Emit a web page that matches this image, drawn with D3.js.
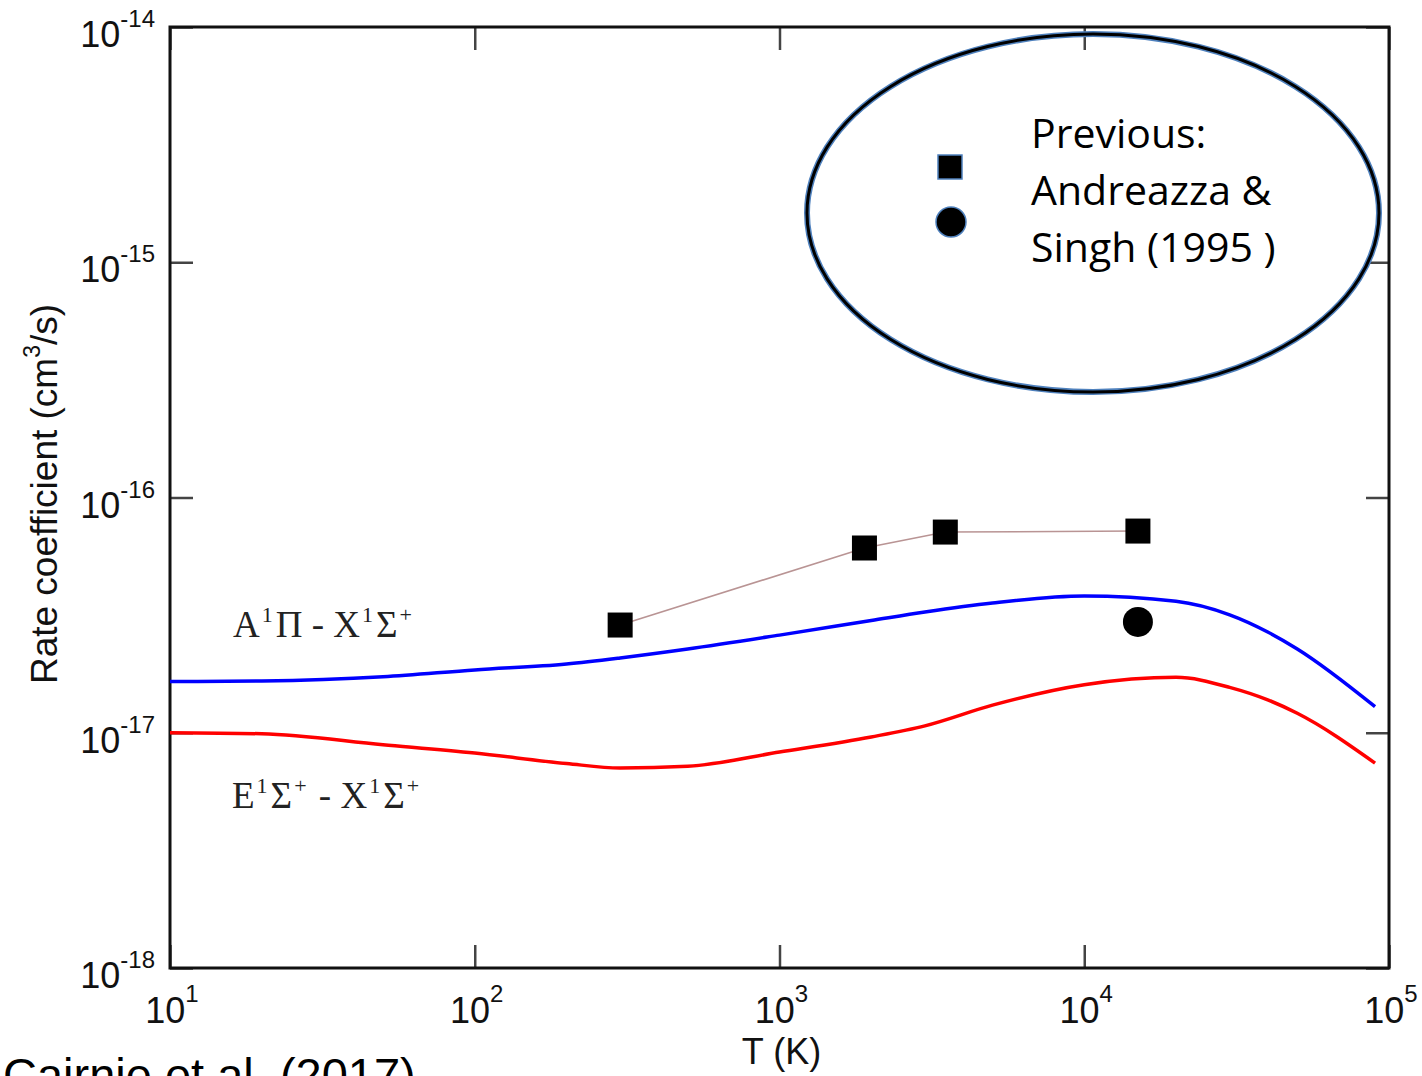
<!DOCTYPE html>
<html>
<head>
<meta charset="utf-8">
<script src="https://cdn.jsdelivr.net/npm/d3@7"></script>
<style>
  html, body { margin: 0; padding: 0; background: #fff; }
  svg { display: block; }
</style>
</head>
<body>
<svg id="chart" width="1422" height="1076"></svg>
<script>
/* Data
-------------------------------------------------------------------------------------------------*/
const temps = [10, 20, 50, 100, 200, 300, 500, 1000, 2000, 3000, 5000, 10000, 20000, 30000, 40000, 50000, 90000]
const rateA = [1.65e-17, 1.66e-17, 1.73e-17, 1.85e-17, 1.96e-17, 2.08e-17, 2.27e-17, 2.60e-17, 3.0e-17, 3.26e-17,
               3.56e-17, 3.81e-17, 3.62e-17, 3.17e-17, 2.68e-17, 2.27e-17, 1.29e-17]
const rateE = [1.0e-17, 9.9e-18, 8.9e-18, 8.2e-18, 7.4e-18, 7.08e-18, 7.2e-18, 8.28e-18, 9.6e-18, 1.07e-17,
               1.31e-17, 1.60e-17, 1.72e-17, 1.56e-17, 1.38e-17, 1.21e-17, 7.43e-18]

// Andreazza & Singh (1995)
const prevSquareT = [300, 1900, 3500, 15000]
const prevSquareK = [2.87e-17, 6.1e-17, 7.13e-17, 7.2e-17]
const prevCircleT = [15000]
const prevCircleK = [2.96e-17]

const xTicks = [1e1, 1e2, 1e3, 1e4, 1e5]
const xTickExp = ["1", "2", "3", "4", "5"]
const yTicks = [1e-14, 1e-15, 1e-16, 1e-17, 1e-18]
const yTickExp = ["-14", "-15", "-16", "-17", "-18"]

const legendLines = ["Previous:", "Andreazza &", "Singh (1995 )"]

/* Layout
-------------------------------------------------------------------------------------------------*/
const margin = {top: 27, right: 33, bottom: 108, left: 170}
const width = 1422 - margin.left - margin.right
const height = 1076 - margin.top - margin.bottom
const tickLen = 23
const sans = "'Liberation Sans', Arial, Helvetica, sans-serif"
const serif = "'Liberation Serif', 'Times New Roman', serif"

const root = d3.select("#chart")
root.append("rect").attr("width", 1422).attr("height", 1076).attr("fill", "#fff")

const svg = root.append("g")
  .attr("transform", "translate(" + margin.left + "," + margin.top + ")")

const x = d3.scaleLog().domain([1e1, 1e5]).range([0, width])
const y = d3.scaleLog().domain([1e-18, 1e-14]).range([height, 0])

/* Ticks (inward, on all four sides)
-------------------------------------------------------------------------------------------------*/
const styleTicks = g => {
  g.select(".domain").remove()
  g.selectAll(".tick line").attr("stroke", "#444").attr("stroke-width", 2.5)
}

svg.append("g").attr("transform", "translate(0," + height + ")")
  .call(d3.axisBottom(x).tickValues(xTicks).tickSize(-tickLen).tickFormat(""))
  .call(styleTicks)
svg.append("g")
  .call(d3.axisTop(x).tickValues(xTicks).tickSize(-tickLen).tickFormat(""))
  .call(styleTicks)
svg.append("g")
  .call(d3.axisLeft(y).tickValues(yTicks).tickSize(-tickLen).tickFormat(""))
  .call(styleTicks)
svg.append("g").attr("transform", "translate(" + width + ",0)")
  .call(d3.axisRight(y).tickValues(yTicks).tickSize(-tickLen).tickFormat(""))
  .call(styleTicks)

// Frame
svg.append("rect")
  .attr("width", width).attr("height", height)
  .attr("fill", "none").attr("stroke", "#111").attr("stroke-width", 3)

/* Tick labels 10^n
-------------------------------------------------------------------------------------------------*/
xTicks.forEach((t, i) => {
  const txt = svg.append("text")
    .attr("x", x(t) + 2).attr("y", height + 55)
    .attr("text-anchor", "middle")
    .style("font-family", sans).style("font-size", "36px").attr("fill", "#111")
  txt.append("tspan").text("10")
  txt.append("tspan").attr("dy", -21).style("font-size", "24px").text(xTickExp[i])
})

yTicks.forEach((t, i) => {
  const txt = svg.append("text")
    .attr("x", -15).attr("y", y(t) + 20)
    .attr("text-anchor", "end")
    .style("font-family", sans).style("font-size", "36px").attr("fill", "#111")
  txt.append("tspan").text("10")
  txt.append("tspan").attr("dy", -20).style("font-size", "24px").text(yTickExp[i])
})

/* Axis titles
-------------------------------------------------------------------------------------------------*/
svg.append("text")
  .attr("x", x(1e3) + 2).attr("y", height + 96)
  .attr("text-anchor", "middle")
  .style("font-family", sans).style("font-size", "36px").attr("fill", "#111")
  .text("T (K)")

const yLab = svg.append("text")
  .attr("transform", "translate(" + (57 - margin.left) + "," + (494 - margin.top) + ") rotate(-90)")
  .attr("text-anchor", "middle")
  .style("font-family", sans).style("font-size", "37px").attr("fill", "#111")
yLab.append("tspan").text("Rate coefficient (cm")
yLab.append("tspan").attr("dy", -17).style("font-size", "23px").text("3")
yLab.append("tspan").attr("dy", 17).text("/s)")

/* Curves
-------------------------------------------------------------------------------------------------*/
const line = d3.line()
  .x(d => x(d[0]))
  .y(d => y(d[1]))
  .curve(d3.curveMonotoneX)

svg.append("path")
  .datum(d3.zip(temps, rateA))
  .attr("fill", "none").attr("stroke", "#0000ff").attr("stroke-width", 3.5)
  .attr("d", line)

svg.append("path")
  .datum(d3.zip(temps, rateE))
  .attr("fill", "none").attr("stroke", "#ff0000").attr("stroke-width", 3.5)
  .attr("d", line)

// Curve labels: [text, superscript] pieces
const addStateLabel = (px, py, parts) => {
  const t = svg.append("text")
    .attr("x", px - margin.left).attr("y", py - margin.top)
    .style("font-family", serif).style("font-size", "37px").attr("fill", "#222")
  parts.forEach(([s, sup], i) => {
    t.append("tspan").attr("dx", i ? 3 : 0).attr("dy", i ? 15 : 0).text(s)
    t.append("tspan").attr("dx", 2).attr("dy", -15).style("font-size", "22px").text(sup)
  })
}
addStateLabel(233, 637, [["A", "1"], ["Π - X", "1"], ["Σ", "+"]])
addStateLabel(232, 808, [["E", "1"], ["Σ", "+"], [" - X", "1"], ["Σ", "+"]])

/* Previous data: Andreazza & Singh (1995)
-------------------------------------------------------------------------------------------------*/
const prev = d3.zip(prevSquareT, prevSquareK)
const sq = 25

svg.append("path")
  .datum(prev)
  .attr("fill", "none").attr("stroke", "#b99494").attr("stroke-width", 1.6)
  .attr("d", d3.line().x(d => x(d[0])).y(d => y(d[1])))

svg.append("g").selectAll("rect")
  .data(prev)
  .enter()
  .append("rect")
  .attr("x", d => x(d[0]) - sq / 2)
  .attr("y", d => y(d[1]) - sq / 2)
  .attr("width", sq).attr("height", sq)
  .attr("fill", "#000")

svg.append("g").selectAll("circle")
  .data(d3.zip(prevCircleT, prevCircleK))
  .enter()
  .append("circle")
  .attr("cx", d => x(d[0]))
  .attr("cy", d => y(d[1]))
  .attr("r", 15)
  .attr("fill", "#000")

/* Legend ellipse (annotation)
-------------------------------------------------------------------------------------------------*/
const legend = root.append("g")

legend.append("ellipse")
  .attr("cx", 1093).attr("cy", 213).attr("rx", 286).attr("ry", 179)
  .attr("fill", "none").attr("stroke", "#4f81bd").attr("stroke-width", 6)
legend.append("ellipse")
  .attr("cx", 1093).attr("cy", 213).attr("rx", 286).attr("ry", 179)
  .attr("fill", "none").attr("stroke", "#000").attr("stroke-width", 3)

legend.append("rect")
  .attr("x", 938).attr("y", 155).attr("width", 24).attr("height", 24)
  .attr("fill", "#000").attr("stroke", "#4f81bd").attr("stroke-width", 1.5)
legend.append("circle")
  .attr("cx", 951).attr("cy", 222).attr("r", 15)
  .attr("fill", "#000").attr("stroke", "#4f81bd").attr("stroke-width", 1.5)

legend.selectAll("text")
  .data(legendLines)
  .enter()
  .append("text")
  .attr("x", 1031)
  .attr("y", (d, i) => 148 + i * 57)
  .style("font-family", "'Open Sans', sans-serif").style("font-size", "41px").attr("fill", "#000")
  .text(d => d)

/* Source note (cropped at the bottom edge, as in the figure)
-------------------------------------------------------------------------------------------------*/
root.append("text")
  .attr("x", 3).attr("y", 1091)
  .style("font-family", sans).style("font-size", "47px").attr("fill", "#000")
  .text("Cairnie et al. (2017)")
</script>
</body>
</html>
